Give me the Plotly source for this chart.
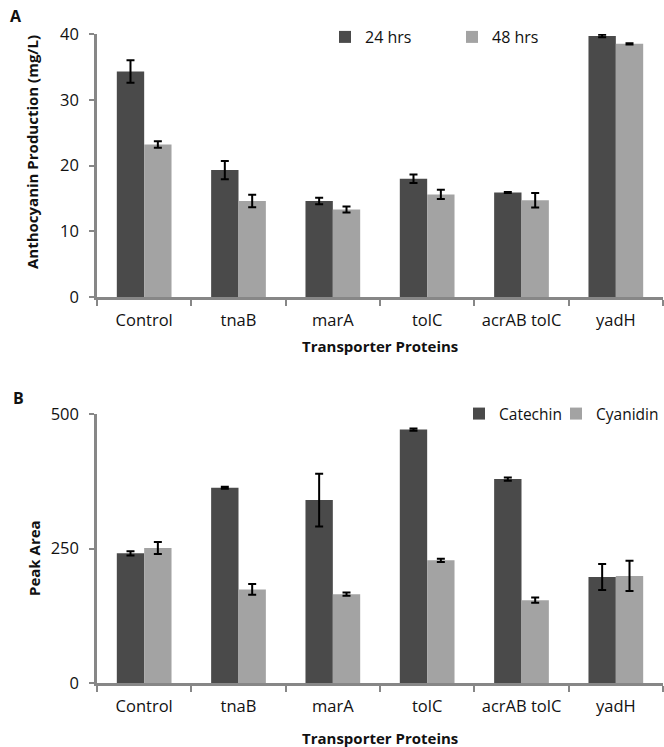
import plotly.graph_objects as go

categories = ["Control", "tnaB", "marA", "tolC", "acrAB tolC", "yadH"]

# Panel A: Anthocyanin production (mg/L)
a_24h = [34.3, 19.3, 14.6, 18.0, 15.9, 39.7]
a_24h_err = [1.7, 1.4, 0.5, 0.65, 0.08, 0.2]
a_48h = [23.2, 14.6, 13.3, 15.6, 14.7, 38.5]
a_48h_err = [0.5, 0.95, 0.45, 0.7, 1.1, 0.1]
a_ticks = [0, 10, 20, 30, 40]

# Panel B: Peak area
b_cat = [241, 363, 340, 471, 379, 197]
b_cat_err = [4, 2, 49, 2, 3, 24]
b_cya = [251, 174, 165, 228, 154, 199]
b_cya_err = [11, 10, 3, 3, 5, 28]
b_ticks = [0, 250, 500]

W, H = 664, 747
DARK = "#4a4a4a"
LIGHT = "#a3a3a3"
AXC = "#878787"
FONT = "Open Sans"

def px(x):
    return x / W

def py(y):
    return 1 - y / H

fig = go.Figure()

err_style = dict(type="data", color="black", thickness=2, width=4, visible=True)

fig.add_trace(go.Bar(x=categories, y=a_24h, name="24 hrs", marker=dict(color=DARK, line=dict(width=0)),
                     error_y=dict(array=a_24h_err, **err_style), xaxis="x", yaxis="y", legend="legend"))
fig.add_trace(go.Bar(x=categories, y=a_48h, name="48 hrs", marker=dict(color=LIGHT, line=dict(width=0)),
                     error_y=dict(array=a_48h_err, **err_style), xaxis="x", yaxis="y", legend="legend"))
fig.add_trace(go.Bar(x=categories, y=b_cat, name="Catechin", marker=dict(color=DARK, line=dict(width=0)),
                     error_y=dict(array=b_cat_err, **err_style), xaxis="x2", yaxis="y2", legend="legend2"))
fig.add_trace(go.Bar(x=categories, y=b_cya, name="Cyanidin", marker=dict(color=LIGHT, line=dict(width=0)),
                     error_y=dict(array=b_cya_err, **err_style), xaxis="x2", yaxis="y2", legend="legend3"))

xdom = [px(97), px(663)]
xcommon = dict(domain=xdom, showline=True, linecolor=AXC, linewidth=2.5, ticks="outside",
               tickson="boundaries", ticklen=6, tickwidth=2, tickcolor=AXC, tickangle=0,
               tickfont=dict(family=FONT, size=16.5, color="#111"), ticklabelstandoff=6,
               showgrid=False, zeroline=False, type="category", automargin=False)
ycommon = dict(showline=True, linecolor=AXC, linewidth=2.5, ticks="outside", ticklen=5,
               tickwidth=2, tickcolor=AXC, tickfont=dict(family=FONT, size=16.5, color="#111"),
               ticklabelstandoff=7, showgrid=False, zeroline=False, automargin=False)

def leg(size):
    return dict(orientation="h", yanchor="middle", itemwidth=30,
                font=dict(family=FONT, size=size, color="#111"), bgcolor="rgba(0,0,0,0)",
                traceorder="normal")

fig.update_layout(
    width=W, height=H,
    margin=dict(l=0, r=0, t=0, b=0),
    paper_bgcolor="white", plot_bgcolor="white",
    barmode="group", bargap=0.42, bargroupgap=0,
    font=dict(family=FONT, color="#111"),
    xaxis=dict(anchor="y", **xcommon),
    yaxis=dict(domain=[py(297), py(34)], range=[0, 40], tickvals=a_ticks, anchor="x", **ycommon),
    xaxis2=dict(anchor="y2", **xcommon),
    yaxis2=dict(domain=[py(683), py(414)], range=[0, 500], tickvals=b_ticks, anchor="x2", **ycommon),
    legend=dict(x=px(325), y=py(37), xanchor="left", entrywidth=82, entrywidthmode="pixels", **leg(16)),
    legend2=dict(x=px(459), y=py(414), xanchor="left", **leg(15.5)),
    legend3=dict(x=1, y=py(414), xanchor="right", **leg(15.5)),
    showlegend=True,
)

ann = [
    dict(text="<b>A</b>", x=px(16), y=py(16), font=dict(size=16)),
    dict(text="<b>B</b>", x=px(18), y=py(398), font=dict(size=16)),
    dict(text="<b>Anthocyanin Production (mg/L)</b>", x=px(32), y=py(152), textangle=-90, font=dict(size=15)),
    dict(text="<b>Peak Area</b>", x=px(34), y=py(558), textangle=-90, font=dict(size=15)),
    dict(text="<b>Transporter Proteins</b>", x=px(380), y=py(346), font=dict(size=15)),
    dict(text="<b>Transporter Proteins</b>", x=px(380), y=py(738), font=dict(size=15)),
]
for a in ann:
    a.update(xref="paper", yref="paper", showarrow=False, xanchor="center", yanchor="middle")
    a["font"].update(family=FONT, color="#111")
fig.update_layout(annotations=ann)

fig.write_html("out.html", config={"displayModeBar": False},
               post_script="document.body.style.margin='0';document.body.style.overflow='hidden';")
